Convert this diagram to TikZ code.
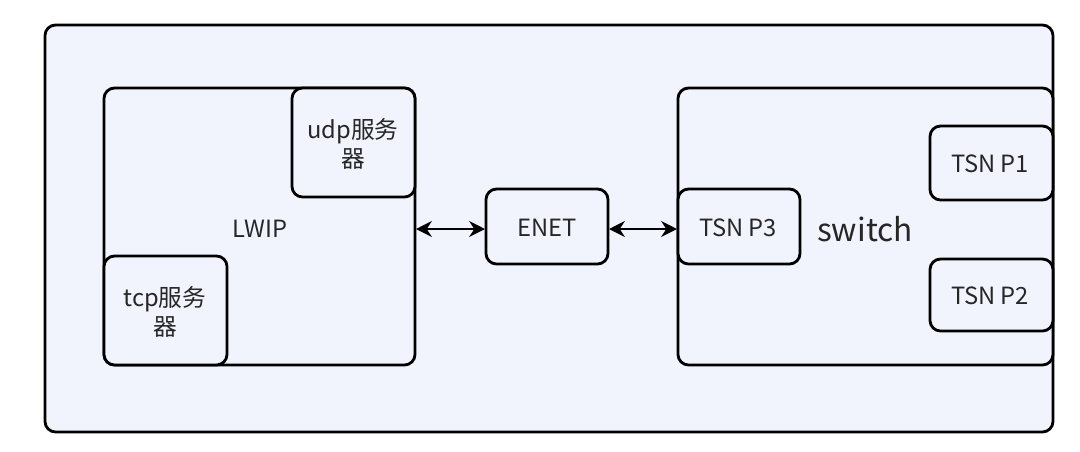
\documentclass[tikz,border=0pt]{standalone}
\usepackage{fontspec}
\setmainfont{Noto Sans CJK SC}
\usetikzlibrary{arrows.meta}
\definecolor{panel}{HTML}{F1F4FC}
\tikzset{
  box/.style={draw=black,line width=1.6pt,rounded corners=6pt,fill=panel},
  lbl/.style={font=\fontsize{13.5}{17}\selectfont,align=center,text=black!85},
  link/.style={<->,>={Stealth[length=9pt,width=9pt]},line width=1.6pt}
}
\begin{document}
\begin{tikzpicture}[x=0.02cm,y=-0.02cm]
		\useasboundingbox (0,0) rectangle (1080,451);
		\draw[box] (45,25) rectangle (1053,432);
		
		\draw[box] (104,88) rectangle (415,365);
		\draw[box] (292,88) rectangle (415,197);
		\draw[box] (104,256) rectangle (227,365);
		\node[lbl] (lwip) at (260,229) {LWIP};
		\node[lbl] (udp) at (353,144) {udp服务\\器};
		\node[lbl] (tcp) at (165,312) {tcp服务\\器};
		
		\draw[box] (486,189) rectangle (608,264);
		\node[lbl] (enet) at (547,228) {ENET};
		
		\draw[box] (678,88) rectangle (1053,365);
		\node[lbl,font=\fontsize{18}{20}\selectfont] (sw) at (865,229) {switch};
		\draw[box] (678,189) rectangle (800,264);
		\node[lbl] (p3) at (738,228) {TSN P3};
		\draw[box] (930,126) rectangle (1053,200);
		\node[lbl] (p1) at (990,164) {TSN P1};
		\draw[box] (930,259) rectangle (1053,331);
		\node[lbl] (p2) at (990,296) {TSN P2};
		
		\coordinate (lw) at (416,229);
		\coordinate (el) at (485,229);
		\coordinate (er) at (609,229);
		\coordinate (sl) at (677,229);
		\draw[link] (lw) -- (el);
		\draw[link] (er) -- (sl);
	\end{tikzpicture}
\end{document}
